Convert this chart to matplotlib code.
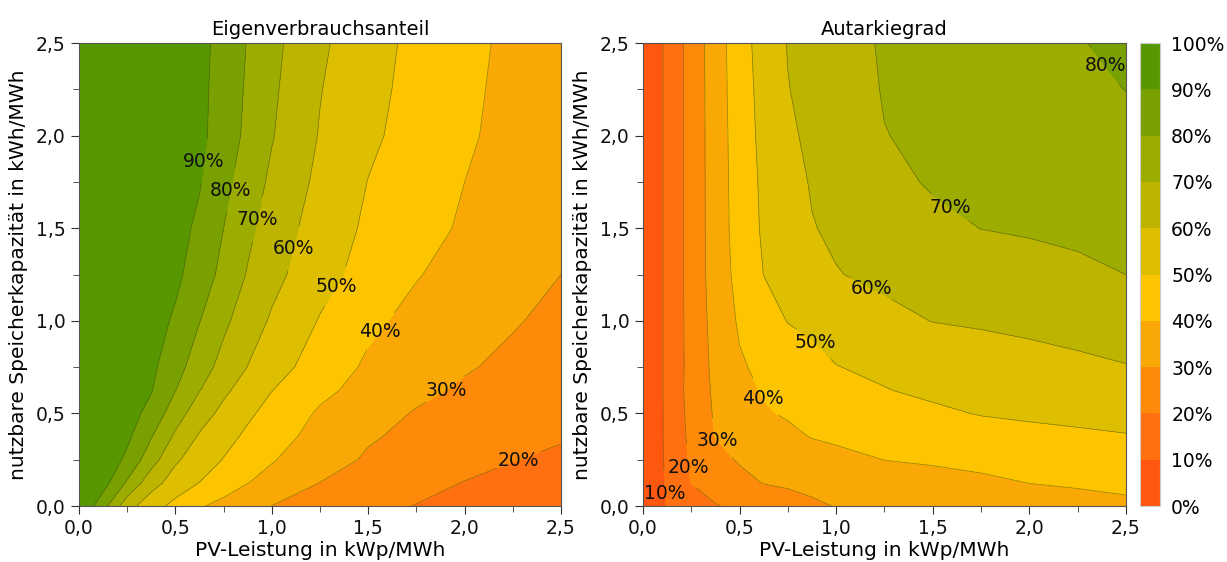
import numpy as np
import matplotlib
matplotlib.use('Agg')
import matplotlib.pyplot as plt
from matplotlib.colors import ListedColormap, BoundaryNorm
from matplotlib.ticker import FuncFormatter, MultipleLocator

# Achsen (kWp/MWh bzw. kWh/MWh)
pv = [0, 0.125, 0.25, 0.375, 0.5, 0.625, 0.75, 0.875, 1.0, 1.25, 1.5, 1.75, 2.0, 2.25, 2.5]
speicher = [0, 0.125, 0.25, 0.375, 0.5, 0.625, 0.75, 1.0, 1.25, 1.5, 1.75, 2.0, 2.25, 2.5]

# Eigenverbrauchsanteil in %, eine Zeile je Speichergroesse
eigenverbrauch = [
    [100, 83.7, 63.9, 54.1, 47.1, 41.0, 37.0, 33.3, 29.9, 26.3, 22.8, 19.7, 18.1, 16.6, 15.0],
    [100, 93.9, 78.7, 63.8, 55.7, 49.8, 45.0, 40.2, 36.7, 29.9, 26.3, 22.8, 19.7, 18.1, 16.5],
    [100, 97.0, 87.9, 74.1, 61.4, 55.1, 49.6, 45.2, 40.7, 33.9, 28.9, 26.0, 23.1, 20.2, 18.9],
    [100, 98.0, 92.0, 80.5, 68.3, 58.9, 53.3, 48.2, 43.8, 36.7, 30.9, 27.9, 25.4, 22.9, 20.5],
    [100, 98.5, 94.1, 86.8, 74.5, 64.6, 57.3, 51.6, 46.8, 38.8, 33.7, 29.3, 26.8, 24.3, 21.8],
    [100, 98.9, 95.8, 90.5, 80.2, 70.3, 61.9, 55.7, 50.2, 42.2, 36.7, 32.2, 28.6, 26.0, 23.4],
    [100, 99.1, 96.5, 92.0, 83.8, 74.6, 66.7, 59.8, 54.3, 45.2, 38.6, 34.8, 30.9, 27.8, 25.0],
    [100, 99.3, 97.3, 93.9, 88.7, 80.3, 72.0, 65.0, 58.8, 49.4, 41.8, 37.5, 34.1, 30.8, 27.5],
    [100, 99.5, 98.0, 95.5, 92.0, 85.5, 77.1, 69.3, 63.0, 53.4, 46.4, 40.5, 36.8, 33.4, 30.0],
    [100, 99.6, 98.3, 96.1, 93.1, 88.3, 80.0, 72.2, 65.5, 55.5, 48.4, 43.4, 38.8, 34.9, 31.0],
    [100, 99.6, 98.5, 96.6, 94.0, 90.6, 82.8, 75.0, 68.2, 57.7, 49.8, 44.9, 40.0, 36.0, 32.0],
    [100, 99.7, 98.6, 97.0, 94.6, 92.2, 85.5, 77.7, 70.6, 59.4, 51.8, 46.3, 41.4, 36.9, 32.5],
    [100, 99.7, 98.7, 97.0, 94.7, 92.3, 86.3, 78.6, 71.7, 60.4, 52.9, 47.0, 42.0, 37.4, 33.0],
    [100, 99.7, 98.7, 97.1, 94.9, 92.5, 87.0, 79.5, 72.7, 61.7, 53.8, 47.6, 42.6, 37.9, 33.5],
]

# Autarkiegrad in %
autarkie = [
    [0, 10.4, 14.9, 19.5, 22.0, 24.2, 26.4, 28.7, 30.3, 31.6, 32.9, 34.2, 35.6, 36.9, 38.2],
    [0, 11.3, 20.2, 23.8, 27.4, 30.3, 31.2, 32.1, 33.0, 34.7, 36.5, 38.3, 40.1, 41.0, 42.0],
    [0, 11.7, 21.3, 27.3, 30.8, 32.4, 34.0, 35.6, 37.1, 40.1, 41.2, 42.3, 43.4, 44.6, 45.7],
    [0, 12.0, 22.3, 30.2, 32.8, 35.4, 37.9, 40.4, 41.7, 43.8, 45.4, 46.6, 47.7, 48.6, 49.5],
    [0, 12.0, 23.0, 31.1, 35.1, 39.0, 41.0, 42.2, 43.5, 46.0, 48.6, 50.4, 51.3, 52.1, 52.9],
    [0, 12.1, 23.6, 31.7, 37.1, 40.8, 42.6, 44.4, 46.2, 49.7, 51.5, 52.7, 53.8, 54.9, 56.0],
    [0, 12.1, 23.3, 32.4, 38.9, 42.1, 44.7, 47.2, 49.8, 51.5, 53.2, 54.8, 56.3, 58.0, 59.6],
    [0, 12.1, 23.5, 33.4, 41.2, 46.1, 50.3, 51.9, 53.5, 57.5, 60.2, 61.2, 62.4, 63.6, 64.8],
    [0, 12.1, 23.6, 34.3, 43.1, 50.1, 53.1, 56.1, 59.6, 62.0, 63.6, 65.1, 66.7, 68.3, 70.0],
    [0, 12.1, 23.6, 34.6, 44.1, 51.3, 55.5, 59.6, 61.4, 64.4, 67.5, 70.1, 70.9, 71.7, 72.5],
    [0, 12.1, 23.6, 34.7, 44.4, 51.8, 56.7, 60.7, 62.9, 67.3, 71.0, 71.8, 72.8, 73.9, 75.0],
    [0, 12.1, 23.6, 34.8, 44.8, 52.6, 58.4, 61.9, 64.6, 69.8, 71.5, 73.0, 74.6, 76.1, 77.6],
    [0, 12.1, 23.6, 35.0, 45.3, 53.3, 59.7, 62.8, 65.6, 70.5, 72.4, 74.3, 76.3, 78.2, 80.1],
    [0, 12.1, 23.7, 35.1, 45.8, 54.1, 60.4, 63.4, 66.4, 70.9, 73.1, 75.3, 77.5, 79.6, 81.5],
]

stufen = [0, 10, 20, 30, 40, 50, 60, 70, 80, 90, 100]
farben = ['#ff5710', '#ff7010', '#ff8a0a', '#faa805', '#fdc500',
          '#ddbe00', '#bdb400', '#9dac00', '#78a000', '#579800']

# Beschriftungspositionen der Isolinien
pos_links = [(0.64, 1.86), (0.82, 1.70), (0.97, 1.54), (1.15, 1.38),
             (1.34, 1.18), (1.58, 0.93), (1.90, 0.63), (2.29, 0.21)]
pos_rechts = [(2.36, 2.35), (1.56, 1.57), (1.16, 1.13), (0.84, 0.83),
              (0.585, 0.56), (0.41, 0.38), (0.24, 0.21), (0.11, 0.065)]

cmap = ListedColormap(farben)
norm = BoundaryNorm(stufen, cmap.N)
komma = FuncFormatter(lambda v, p: ('%.1f' % v).replace('.', ','))

fig = plt.figure(figsize=(12.27, 5.62), dpi=100)
ax1 = fig.add_axes([0.0644, 0.0996, 0.3928, 0.8238])
ax2 = fig.add_axes([0.5240, 0.0996, 0.3936, 0.8238])
cax = fig.add_axes([0.9290, 0.0996, 0.0165, 0.8238])

X, Y = np.meshgrid(pv, speicher)
for ax, daten, titel, pos in [(ax1, eigenverbrauch, 'Eigenverbrauchsanteil', pos_links),
                              (ax2, autarkie, 'Autarkiegrad', pos_rechts)]:
    Z = np.array(daten)
    cf = ax.contourf(X, Y, Z, levels=stufen, cmap=cmap, norm=norm)
    cs = ax.contour(X, Y, Z, levels=stufen[1:-1], colors='#4a4a10',
                    linewidths=0.5, alpha=0.6)
    texte = ax.clabel(cs, manual=pos, fmt='%d%%', fontsize=13.5, colors='#111111',
                      inline=True, inline_spacing=2)
    for t in texte:
        t.set_rotation(0)
        t.set_alpha(1)
    ax.set_xlim(0, 2.5)
    ax.set_ylim(0, 2.5)
    ax.xaxis.set_major_locator(MultipleLocator(0.5))
    ax.yaxis.set_major_locator(MultipleLocator(0.5))
    ax.xaxis.set_minor_locator(MultipleLocator(0.25))
    ax.yaxis.set_minor_locator(MultipleLocator(0.25))
    ax.xaxis.set_major_formatter(komma)
    ax.yaxis.set_major_formatter(komma)
    ax.tick_params(which='both', direction='out', colors='#333333',
                   labelcolor='#111111', labelsize=13.5)
    ax.tick_params(which='major', length=6)
    ax.tick_params(which='minor', length=4)
    for s in ax.spines.values():
        s.set_color('#555555')
        s.set_linewidth(0.8)
    ax.set_title(titel, fontsize=14, pad=6)
    ax.set_xlabel('PV-Leistung in kWp/MWh', fontsize=14.5, labelpad=2)
    ax.set_ylabel('nutzbare Speicherkapazität in kWh/MWh', fontsize=14.5, labelpad=6)

cb = fig.colorbar(cf, cax=cax, ticks=stufen, format='%d%%')
cb.ax.tick_params(length=0, labelsize=13.5, pad=8)
cb.outline.set_edgecolor('#cccccc')
cb.outline.set_linewidth(0.8)

plt.savefig('out.png', dpi=100)
